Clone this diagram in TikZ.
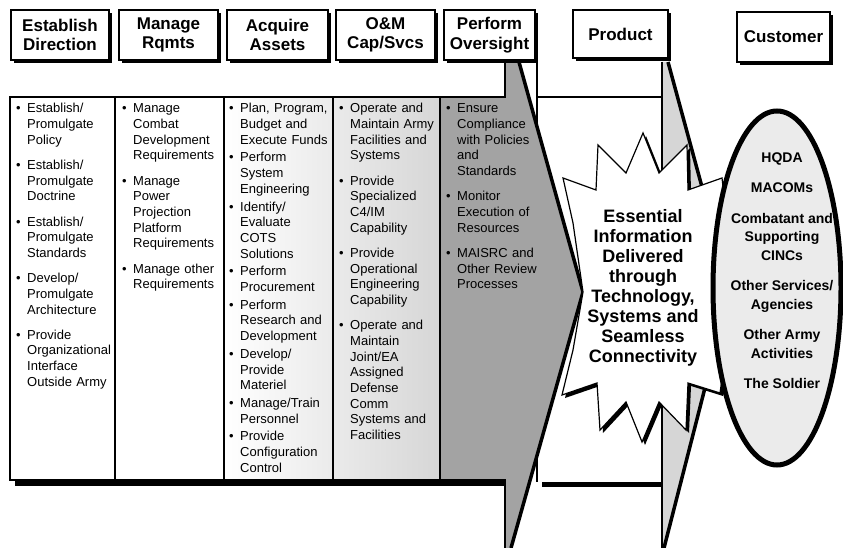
\documentclass[tikz,border=0pt]{standalone}
\usepackage{fontspec}
\setmainfont{Liberation Sans}
\usetikzlibrary{shadows}
\definecolor{darkwedge}{gray}{0.64}
\definecolor{lightwedge}{gray}{0.84}
\definecolor{ovalfill}{gray}{0.92}
\newcommand{\bitem}[2][0pt]{\par\vspace{#1}\leftskip=11pt\parfillskip=0pt plus 1fil\noindent\llap{\makebox[11pt][l]{\textbullet}}#2\par}

\begin{document}
\begin{tikzpicture}[x=1pt,y=-1pt,
    hdr/.style={draw, fill=white, line width=1.2pt, align=center, inner sep=0pt,
      minimum height=50pt, font=\bfseries\fontsize{17}{19.5}\selectfont,
      drop shadow={shadow xshift=3pt, shadow yshift=-3pt, fill=black, opacity=1}},
    coltext/.style={anchor=north west, inner sep=0pt, text width=#1, align=left,
      font=\fontsize{13}{15.7}\selectfont}]
    \useasboundingbox (0,0) rectangle (843,548);
    % product panel and its wedge
    \fill[white] (537,97) rectangle (662,482);
    \fill[black] (542,482) rectangle (662,487);
    \draw[line width=1.2pt] (537,62) -- (537,482) (537,97) -- (662,97);
    \fill[lightwedge] (662,62) -- (668,62) -- (730,290) -- (664,548) -- (662,548) -- cycle;
    \draw[line width=1.2pt] (662,62) -- (662,548);
    \draw[line width=3.5pt] (668,62) -- (730,290) -- (664,548);
    % table of functions
    \fill[white] (10,97) rectangle (224,480);
    \shade[left color=white, right color=black!16] (224,97) rectangle (440,480);
    \fill[darkwedge] (440,97) -- (505,97) -- (505,62) -- (519,62) -- (583,292) -- (511,548)
        -- (505,548) -- (505,480) -- (440,480) -- cycle;
    \fill[black] (15,480) rectangle (505,486);
    \draw[line width=1.5pt] (505,62) -- (505,97) -- (10,97) -- (10,480) -- (505,480) -- (505,548);
    \foreach \cx in {115,224,333,440}
        \draw[line width=1.2pt] (\cx,97) -- (\cx,480);
    \draw[line width=3.5pt] (519,62) -- (583,292) -- (511,548);
    % column texts
    \node[coltext=98pt] (tdir) at (16,97) {%
        \bitem{Establish/\\Promulgate\\Policy}
        \bitem[9.5pt]{Establish/\\Promulgate\\Doctrine}
        \bitem[9.5pt]{Establish/\\Promulgate\\Standards}
        \bitem[9.5pt]{Develop/\\Promulgate\\Architecture}
        \bitem[9.5pt]{Provide\\Organizational\\Interface\\Outside Army}};
    \node[coltext=100pt] (treq) at (122,97) {%
        \bitem{Manage\\Combat\\Development\\Requirements}
        \bitem[9.5pt]{Manage\\Power\\Projection\\Platform\\Requirements}
        \bitem[9.5pt]{Manage other\\Requirements}};
    \node[coltext=100pt] (tacq) at (229,97) {%
        \bitem{Plan, Program,\\Budget and\\Execute Funds}
        \bitem[2pt]{Perform\\System\\Engineering}
        \bitem[2pt]{Identify/\\Evaluate\\COTS\\Solutions}
        \bitem[2pt]{Perform\\Procurement}
        \bitem[2pt]{Perform\\Research and\\Development}
        \bitem[2pt]{Develop/\\Provide\\Materiel}
        \bitem[2pt]{Manage/Train\\Personnel}
        \bitem[2pt]{Provide\\Configuration\\Control}};
    \node[coltext=100pt] (tom) at (339,97) {%
        \bitem{Operate and\\Maintain Army\\Facilities and\\Systems}
        \bitem[9.5pt]{Provide\\Specialized\\C4/IM\\Capability}
        \bitem[9.5pt]{Provide\\Operational\\Engineering\\Capability}
        \bitem[9.5pt]{Operate and\\Maintain\\Joint/EA\\Assigned\\Defense\\Comm\\Systems and\\Facilities}};
    \node[coltext=95pt] (tovs) at (446,97) {%
        \bitem{Ensure\\Compliance\\with Policies\\and\\Standards}
        \bitem[9.5pt]{Monitor\\Execution of\\Resources}
        \bitem[9.5pt]{MAISRC and\\Other Review\\Processes}};
    % starburst
    \fill[black, shift={(3,3)}] (563,178) -- (596,190) -- (598,145) -- (626,173) -- (643,133)
        -- (659,173) -- (687,145) -- (688,190) -- (722,178) -- (735,290) -- (720,393)
        -- (688,383) -- (686,430) -- (659,402) -- (642,442) -- (626,402) -- (600,430)
        -- (597,383) -- (562,395) -- (573,350) -- (583,292) -- (573,223) -- cycle;
    \filldraw[fill=white, line width=1.2pt] (563,178) -- (596,190) -- (598,145) -- (626,173)
        -- (643,133) -- (659,173) -- (687,145) -- (688,190) -- (722,178) -- (735,290)
        -- (720,393) -- (688,383) -- (686,430) -- (659,402) -- (642,442) -- (626,402)
        -- (600,430) -- (597,383) -- (562,395) -- (573,350) -- (583,292) -- (573,223) -- cycle;
    \node[align=center, font=\bfseries\fontsize{18}{20}\selectfont] (info) at (643,288)
        {Essential\\Information\\Delivered\\through\\Technology,\\Systems and\\Seamless\\Connectivity};
    % customer oval
    \draw[line width=5pt, fill=ovalfill] (777,288) ellipse [x radius=64pt, y radius=177pt];
    \node[align=center, font=\bfseries\fontsize{14}{18.5}\selectfont] (users) at (782,270.5)
        {HQDA\\[12pt]MACOMs\\[12pt]Combatant and\\Supporting\\CINCs\\[12pt]Other Services/\\Agencies\\[12pt]Other Army\\Activities\\[12pt]The Soldier};
    % headers
    \node[hdr, minimum width=98pt] (hdir) at (60,35) {Establish\\Direction};
    \node[hdr, minimum width=99pt] (hreq) at (168.5,35) {Manage\\Rqmts};
    \node[hdr, minimum width=101pt] (hacq) at (277.5,35) {Acquire\\Assets};
    \node[hdr, minimum width=99pt] (hom) at (385.5,35) {O\&M\\Cap/Svcs};
    \node[hdr, minimum width=91pt] (hovs) at (489.5,35) {Perform\\Oversight};
    \node[hdr, minimum width=95pt, minimum height=48pt] (hprod) at (620.5,34) {Product};
    \node[hdr, minimum width=93pt] (hcust) at (783.5,37) {Customer};
\end{tikzpicture}
\end{document}
